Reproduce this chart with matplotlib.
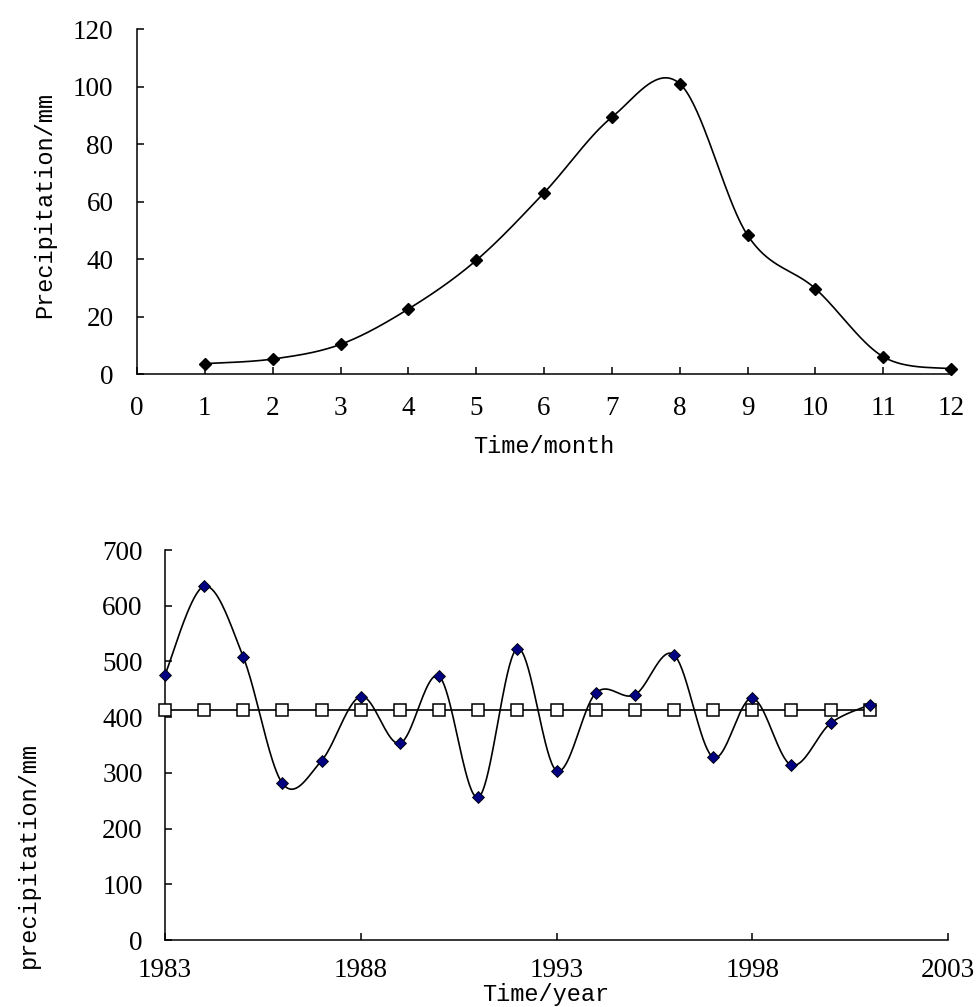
import numpy as np
import matplotlib
matplotlib.use('Agg')
import matplotlib.pyplot as plt

# monthly precipitation (mm)
months = [1, 2, 3, 4, 5, 6, 7, 8, 9, 10, 11, 12]
monthly_precip = [3.6, 5.2, 10.3, 22.6, 39.5, 63.0, 89.3, 101.0, 48.3, 29.7, 6.0, 1.8]

# annual precipitation (mm) and multi-year mean
years = [1983, 1984, 1985, 1986, 1987, 1988, 1989, 1990, 1991, 1992,
         1993, 1994, 1995, 1996, 1997, 1998, 1999, 2000, 2001]
annual_precip = [476, 635, 508, 281, 322, 437, 353, 473, 256, 523,
                 304, 443, 440, 512, 328, 434, 314, 389, 422]
annual_mean = [413, 413, 413, 413, 413, 413, 413, 413, 413, 413,
               413, 413, 413, 413, 413, 413, 413, 413, 413]

month_ticks = list(range(0, 13))
precip_ticks_top = [0, 20, 40, 60, 80, 100, 120]
year_ticks = [1983, 1988, 1993, 1998, 2003]
precip_ticks_bottom = [0, 100, 200, 300, 400, 500, 600, 700]


def smooth(x, y, n=40):
    # Excel-like smoothed line (Catmull-Rom through the points)
    p = np.column_stack([x, y]).astype(float)
    p = np.vstack([p[0], p, p[-1]])
    t = np.linspace(0, 1, n)[:, None]
    out = []
    for i in range(1, len(p) - 2):
        p0, p1, p2, p3 = p[i - 1], p[i], p[i + 1], p[i + 2]
        c1 = p1 + (p2 - p0) / 6
        c2 = p2 - (p3 - p1) / 6
        seg = ((1 - t) ** 3) * p1 + 3 * ((1 - t) ** 2) * t * c1 + 3 * (1 - t) * t ** 2 * c2 + t ** 3 * p2
        out.append(seg)
    out = np.vstack(out)
    return out[:, 0], out[:, 1]


tick_font = {'family': 'Liberation Serif', 'size': 19.5}
label_font = {'family': 'Liberation Mono', 'size': 17}

fig = plt.figure(figsize=(9.8, 10.07), dpi=100)

# ---- top: monthly ----
ax1 = fig.add_axes([137 / 980, 1 - 374 / 1007, 814 / 980, 345 / 1007])
sx, sy = smooth(months, monthly_precip)
ax1.plot(sx, sy, color='black', lw=1.2, clip_on=False)
ax1.plot(months, monthly_precip, ls='none', marker='D', ms=6.5, color='black', clip_on=False, zorder=3)
ax1.set_xlim(0, 12)
ax1.set_ylim(0, 120)
ax1.set_xticks(month_ticks)
ax1.set_yticks(precip_ticks_top)
ax1.tick_params(axis='x', direction='in', length=5, width=1.1, pad=16)
ax1.tick_params(axis='y', direction='in', length=5, width=1.1, pad=17)
ax1.set_xlabel('Time/month', fontdict=label_font)
ax1.set_ylabel('Precipitation/mm', fontdict=label_font)

# ---- bottom: annual ----
ax2 = fig.add_axes([165 / 980, 1 - 940 / 1007, 783 / 980, 390 / 1007])
sx, sy = smooth(years, annual_precip)
ax2.plot(sx, sy, color='black', lw=1.2, clip_on=False)
ax2.plot(years, annual_mean, color='black', lw=1.2, marker='s', ms=8.5,
         mfc='white', mec='black', mew=1.1, clip_on=False, zorder=3)
ax2.plot(years, annual_precip, ls='none', marker='D', ms=6.5, mfc='#000080',
         mec='black', mew=0.6, clip_on=False, zorder=4)
ax2.set_xlim(1983, 2003)
ax2.set_ylim(0, 700)
ax2.set_xticks(year_ticks)
ax2.set_yticks(precip_ticks_bottom)
ax2.tick_params(axis='x', direction='in', length=5, width=1.1, pad=13)
ax2.tick_params(axis='y', direction='in', length=5, width=1.1, pad=16)
ax2.set_xlabel('Time/year', fontdict=label_font)
ax2.set_ylabel('precipitation/mm', fontdict=label_font)

for ax in (ax1, ax2):
    ax.spines['top'].set_visible(False)
    ax.spines['right'].set_visible(False)
    ax.spines['left'].set_linewidth(1.1)
    ax.spines['bottom'].set_linewidth(1.1)
    for lab in ax.get_xticklabels() + ax.get_yticklabels():
        lab.set_fontfamily(tick_font['family'])
        lab.set_fontsize(tick_font['size'])
    ax.yaxis.label.set_verticalalignment('center')
    ax.xaxis.label.set_verticalalignment('center')

# label placement (axes fractions)
ax1.yaxis.set_label_coords((45 - 137) / 814, (374 - 205) / 345)
ax1.xaxis.set_label_coords((544 - 137) / 814, (374 - 446) / 345)
ax2.yaxis.set_label_coords((28 - 165) / 783, (940 - 855) / 390)
ax2.xaxis.set_label_coords((546 - 165) / 783, (940 - 995) / 390)

fig.savefig('out.png', dpi=100)
